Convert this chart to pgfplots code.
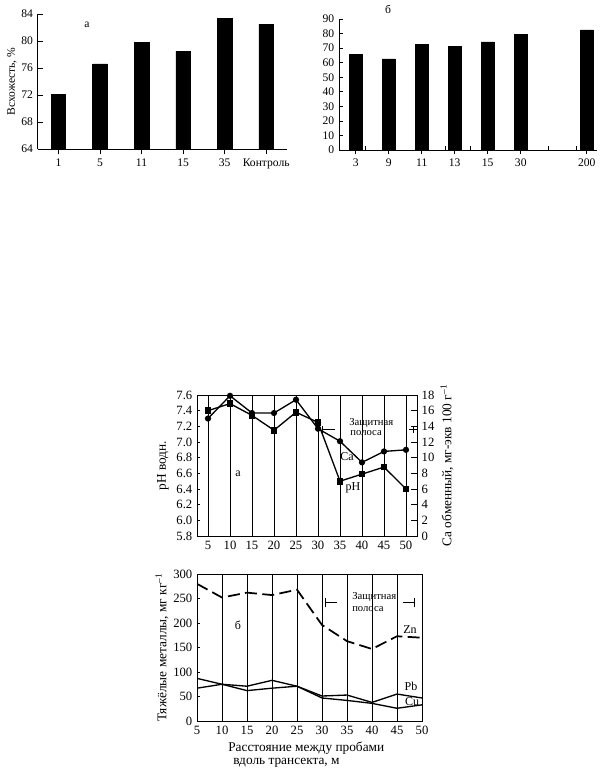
\documentclass[border=0pt]{standalone}
\usepackage{pgfplots}
\pgfplotsset{compat=1.18}
\usepackage{fontspec}
\setmainfont{Liberation Serif}
\pgfplotsset{/pgf/number format/assume math mode=true}
\begin{document}
\begin{tikzpicture}
\useasboundingbox (0,0) rectangle (453.75pt,-581.25pt);
% ---------- top left (a) ----------
\begin{axis}[
 at={(28.28pt,-111.75pt)}, anchor=south west, scale only axis,
 width=186.98pt, height=101.25pt,
 axis x line=bottom, axis y line=left, axis line style={-, line width=0.6pt},
 xmin=-0.5, xmax=5.5, ymin=64, ymax=84,
 xtick={0,...,5}, xticklabels={1,5,11,15,35,Контроль},
 ytick={64,68,72,76,80,84},
 tick align=inside, major tick length=4pt, tick style={black, line width=0.5pt},
 tick label style={font=\fontsize{8.7}{10}\selectfont},
 ylabel={Всхожесть, \%},
 ylabel style={font=\fontsize{8.7}{10}\selectfont, at={(axis description cs:-0.1032,0.5)}, anchor=center},
 ybar, bar width=10.9pt,
]
\addplot[fill=black, draw=black, bar shift=0pt] coordinates {(0,72.1) (1,76.6) (2,79.8) (3,78.5) (4,83.4) (5,82.5)};
\node[font=\fontsize{8.7}{10}\selectfont] at (axis cs:0.685,82.4) {а};
\end{axis}
% ---------- top right (б) ----------
\begin{axis}[
 at={(254.25pt,-112.5pt)}, anchor=south west, scale only axis,
 width=193.5pt, height=98.25pt,
 axis x line=bottom, axis y line=left, axis line style={-, line width=0.6pt},
 xmin=-0.506, xmax=7.31, ymin=0, ymax=90,
 xtick={0,1,2,3,4,5,7}, xticklabels={3,9,11,13,15,30,200},
 extra x ticks={0.3,2.7,3.46,5.85,6.67}, extra x tick labels={},
 extra x tick style={major tick length=3pt, tick align=inside},
 ytick={0,10,...,90},
 tick align=inside, major tick length=3pt, tick style={black, line width=0.5pt},
 tick label style={font=\fontsize{8.7}{10}\selectfont},
 ybar, bar width=9.75pt,
 clip=false,
]
\addplot[fill=black, draw=black, bar shift=0pt] coordinates {(0,65.5) (1,62.6) (2,72.4) (3,71.3) (4,74.3) (5,79.4) (7,82.5)};
\node[font=\fontsize{8.7}{10}\selectfont] at (axis cs:0.98,96.5) {б};
\end{axis}
% ---------- bottom a: pH + Ca ----------
\begin{axis}[
 at={(147.75pt,-402pt)}, anchor=south west, scale only axis,
 width=165pt, height=105.75pt,
 xmin=2.5, xmax=52.5, ymin=5.8, ymax=7.6,
 xtick={5,10,...,50}, xtick pos=bottom, ytick pos=left,
 ytick={5.8,6.0,6.2,6.4,6.6,6.8,7.0,7.2,7.4,7.6},
 yticklabel style={/pgf/number format/.cd, fixed, fixed zerofill, precision=1},
 xmajorgrids, grid style={black, line width=0.5pt},
 axis line style={line width=0.6pt},
 tick align=inside, major tick length=2.5pt, tick style={black, line width=0.5pt},
 tick label style={font=\fontsize{9.5}{11}\selectfont},
 ylabel={pH водн.},
 ylabel style={font=\fontsize{10}{11}\selectfont, at={(axis description cs:-0.1545,0.5)}, anchor=center},
]
\addplot[black, line width=1pt, mark=square*, mark size=2pt] coordinates {
 (5,7.40) (10,7.49) (15,7.34) (20,7.15) (25,7.38) (30,7.25) (35,6.50) (40,6.59) (45,6.68) (50,6.40)};
\draw[line width=0.6pt] (axis cs:31.1,7.12) -- (axis cs:31.1,7.21);
\draw[line width=0.6pt] (axis cs:31.1,7.166) -- (axis cs:33.9,7.166);
\draw[line width=0.6pt] (axis cs:50.7,7.166) -- (axis cs:52.5,7.166);
\draw[line width=0.6pt] (axis cs:51.6,7.12) -- (axis cs:51.6,7.21);
\node[font=\fontsize{8}{9}\selectfont, anchor=west, inner sep=0pt] at (axis cs:37.05,7.24) {Защитная};
\node[font=\fontsize{8}{9}\selectfont, anchor=west, inner sep=0pt] at (axis cs:37.3,7.115) {полоса};
\node[font=\fontsize{9}{10}\selectfont] at (axis cs:36.6,6.82) {Ca};
\node[font=\fontsize{9}{10}\selectfont] at (axis cs:37.95,6.41) {pH};
\node[font=\fontsize{9}{10}\selectfont] at (axis cs:11.8,6.59) {а};
\end{axis}
\begin{axis}[
 at={(147.75pt,-402pt)}, anchor=south west, scale only axis,
 width=165pt, height=105.75pt,
 xmin=2.5, xmax=52.5, ymin=0, ymax=18,
 axis x line=none, axis y line*=right, axis line style={-, line width=0.6pt},
 ytick={0,2,...,18},
 tick align=inside, major tick length=4.5pt, tick style={black, line width=0.5pt},
 tick label style={font=\fontsize{9.5}{11}\selectfont},
 ylabel={Ca обменный, мг-экв 100 г\textsuperscript{–1}},
 ylabel style={font=\fontsize{10}{11}\selectfont, at={(axis description cs:1.1364,0.5)}, anchor=center},
]
\addplot[black, line width=1pt, mark=*, mark size=1.8pt,
 error bars/.cd, y dir=both, y explicit, error mark=none, error bar style={line width=0.7pt}] coordinates {
 (5,15.0) (10,17.9) +- (0,0.4) (15,15.7) (20,15.7) (25,17.4) +- (0,0.6) (30,13.7) (35,12.1) (40,9.4) (45,10.8) (50,11.0)};
\end{axis}
% ---------- bottom б: heavy metals ----------
\begin{axis}[
 at={(147.75pt,-540.75pt)}, anchor=south west, scale only axis,
 width=168.75pt, height=110.25pt,
 xmin=5, xmax=50, ymin=0, ymax=300,
 xtick={5,10,...,50}, xtick pos=bottom, ytick pos=left,
 ytick={0,50,...,300},
 xmajorgrids, grid style={black, line width=0.5pt},
 axis line style={line width=0.6pt},
 tick align=inside, major tick length=2.5pt, tick style={black, line width=0.5pt},
 tick label style={font=\fontsize{9.5}{11}\selectfont},
 ylabel={Тяжёлые металлы, мг кг\textsuperscript{–1}},
 ylabel style={font=\fontsize{10}{11}\selectfont, at={(axis description cs:-0.1556,0.5)}, anchor=center},
]
\addplot[black, line width=1.3pt, dash pattern=on 9pt off 4pt] coordinates {
 (5,280) (10,252) (15,262) (20,257) (25,268) (30,196) (35,163) (40,147) (45,173) (50,170)};
\addplot[black, line width=1pt] coordinates {
 (5,67) (10,75) (15,71) (20,83) (25,71) (30,51) (35,53) (40,38) (45,55) (50,47)};
\addplot[black, line width=1pt] coordinates {
 (5,87) (10,75) (15,62) (20,67) (25,71) (30,47) (35,42) (40,36) (45,26) (50,33)};
\draw[line width=0.6pt] (axis cs:30.7,232) -- (axis cs:30.7,251);
\draw[line width=0.6pt] (axis cs:30.7,241.4) -- (axis cs:32.9,241.4);
\draw[line width=0.6pt] (axis cs:46.2,241.4) -- (axis cs:48.4,241.4);
\draw[line width=0.6pt] (axis cs:48.4,232) -- (axis cs:48.4,251);
\node[font=\fontsize{8}{9}\selectfont, anchor=west, inner sep=0pt] at (axis cs:36.0,253.7) {Защитная};
\node[font=\fontsize{8}{9}\selectfont, anchor=west, inner sep=0pt] at (axis cs:36.0,228.8) {полоса};
\node[font=\fontsize{9}{10}\selectfont] at (axis cs:13.2,196) {б};
\node[font=\fontsize{9}{10}\selectfont] at (axis cs:47.6,185.7) {Zn};
\node[font=\fontsize{9}{10}\selectfont] at (axis cs:47.8,70) {Pb};
\node[font=\fontsize{9}{10}\selectfont] at (axis cs:48,39.4) {Cu};
\end{axis}
\node[font=\fontsize{10}{11}\selectfont, anchor=west, inner sep=0pt] at (171pt,-561pt) {Расстояние между пробами};
\node[font=\fontsize{10}{11}\selectfont, anchor=west, inner sep=0pt] at (174.75pt,-572.25pt) {вдоль трансекта, м};
\end{tikzpicture}
\end{document}
